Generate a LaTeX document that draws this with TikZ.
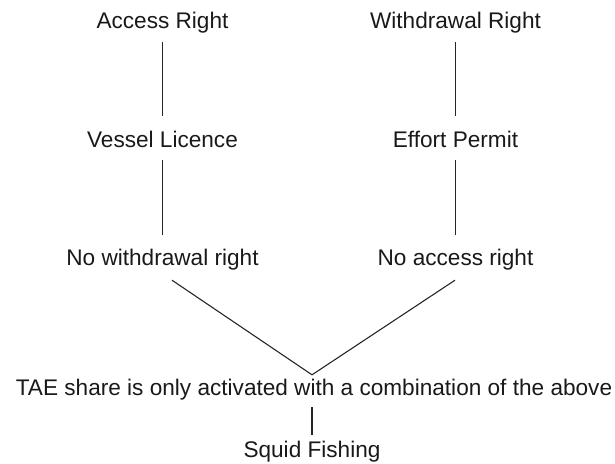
\documentclass[tikz,border=0pt]{standalone}
\usepackage{fontspec}
\setmainfont{Liberation Sans}
\begin{document}
\begin{tikzpicture}[x=1pt,y=1pt,
  lbl/.style={inner sep=0pt, anchor=base, text height=16.5pt, text depth=4.8pt,
    font=\fontsize{22.6}{26}\selectfont, text=black!90},
  link/.style={line width=1.1pt, draw=black!85}]
\useasboundingbox (0,0) rectangle (615,-463);
\node[lbl] (ar) at (162.5,-28) {Access Right};
\node[lbl] (wr) at (455.5,-28) {Withdrawal Right};
\node[lbl] (vl) at (162.5,-147) {Vessel Licence};
\node[lbl] (ep) at (455.5,-147) {Effort Permit};
\node[lbl] (nw) at (162.5,-265) {No withdrawal right};
\node[lbl] (na) at (455.5,-265) {No access right};
\node[lbl] (tae) at (314,-395) {TAE share is only activated with a combination of the above};
\node[lbl] (sq) at (312,-457) {Squid Fishing};
\coordinate (apex) at ([xshift=-2pt,yshift=3.5pt]tae.north);
\draw[link] ([yshift=-9.2pt]ar.south) -- ([yshift=14.5pt]vl.north);
\draw[link] ([yshift=-9.2pt]wr.south) -- ([yshift=14.5pt]ep.north);
\draw[link] ([yshift=-8.2pt]vl.south) -- ([yshift=13.5pt]nw.north);
\draw[link] ([yshift=-8.2pt]ep.south) -- ([yshift=13.5pt]na.north);
\draw[link] ([shift={(9.5pt,-10.2pt)}]nw.south) -- (apex) -- ([shift={(-0.5pt,-10.2pt)}]na.south);
\draw[link] ([shift={(-2pt,-7.2pt)}]tae.south) -- ([yshift=5.5pt]sq.north);
\end{tikzpicture}
\end{document}
